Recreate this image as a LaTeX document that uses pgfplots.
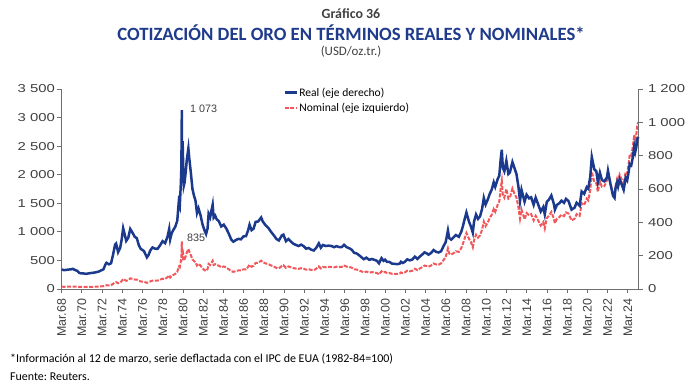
\documentclass[border=0pt]{standalone}
\usepackage{fontspec}
\setmainfont{Carlito}
\newfontfamily\ticky[FakeStretch=1.3]{Liberation Sans}
\newfontfamily\tickx{Liberation Sans}
\newfontfamily\annot{Liberation Sans}
\usepackage{pgfplots}
\usepackage{pgfplotstable}
\pgfplotsset{compat=1.18}
\frenchspacing
\definecolor{realblue}{RGB}{27,58,142}
\definecolor{nomred}{RGB}{240,88,92}
\definecolor{titleblue}{RGB}{31,59,140}
\definecolor{axgray}{RGB}{110,110,110}
\definecolor{txtgray}{RGB}{64,64,64}

\pgfplotstableread{
x nom real
1968.17 40 117
1968.4 39 113
1968.65 40 115
1968.9 41 117
1969.1 42 118
1969.25 43.5 121
1969.45 42 115
1969.7 40.5 109
1969.9 36 97
1970.1 35 93
1970.35 35.5 93
1970.6 35.3 91
1970.85 37 94
1971.1 38 96
1971.35 39.5 98
1971.6 41 101
1971.85 43 105
1972.05 46 111
1972.3 49 118
1972.5 62 148
1972.6 66 157
1972.85 63 148
1973.05 66 154
1973.25 90 206
1973.45 118 267
1973.55 122 273
1973.75 100 221
1973.95 112 246
1974.1 140 296
1974.25 175 365
1974.4 160 329
1974.55 143 289
1974.75 155 307
1974.95 186 360
1975.15 178 340
1975.4 166 313
1975.6 164 305
1975.8 143 262
1976.0 132 240
1976.3 127 228
1976.6 108 190
1976.75 116 203
1976.95 135 233
1977.15 146 249
1977.4 145 242
1977.65 147 241
1977.9 162 262
1978.15 180 287
1978.4 176 275
1978.65 208 317
1978.8 240 360
1978.9 200 298
1979.05 230 335
1979.2 245 353
1979.4 265 373
1979.6 300 410
1979.75 390 523
1979.85 380 500
1979.95 480 626
1980.0 560 720
1980.03 700 899
1980.05 835 1073
1980.07 680 871
1980.1 640 815
1980.13 700 887
1980.2 560 703
1980.25 500 621
1980.33 520 642
1980.45 580 711
1980.55 640 779
1980.7 700 844
1980.78 660 790
1980.85 630 750
1980.95 590 694
1981.1 520 601
1981.25 490 561
1981.4 470 531
1981.55 410 456
1981.7 440 484
1981.9 410 443
1982.1 360 387
1982.3 330 351
1982.45 315 330
1982.6 350 364
1982.7 440 451
1982.85 420 430
1982.95 450 461
1983.1 495 506
1983.2 420 428
1983.35 435 440
1983.5 415 418
1983.7 410 408
1983.95 380 375
1984.2 395 386
1984.45 375 363
1984.7 345 331
1984.95 310 295
1985.15 300 284
1985.4 315 294
1985.65 325 301
1985.9 325 298
1986.15 345 316
1986.4 345 317
1986.6 385 351
1986.75 425 386
1986.95 390 353
1987.15 405 362
1987.35 455 403
1987.6 460 405
1987.9 495 429
1988.05 470 406
1988.3 450 385
1988.6 435 367
1988.85 415 345
1989.1 395 326
1989.4 370 301
1989.65 360 291
1989.95 405 322
1990.1 415 326
1990.35 370 287
1990.6 395 300
1990.85 380 284
1991.1 365 271
1991.35 358 264
1991.6 352 258
1991.85 365 266
1992.1 355 257
1992.35 338 242
1992.6 345 246
1992.85 335 236
1993.1 330 231
1993.35 355 247
1993.6 395 274
1993.8 360 248
1994.0 385 264
1994.3 380 258
1994.55 385 260
1994.85 385 258
1995.1 378 251
1995.35 390 257
1995.6 385 252
1995.85 385 251
1996.1 410 265
1996.35 392 251
1996.6 385 245
1996.85 375 236
1997.1 345 217
1997.35 340 213
1997.6 325 202
1997.85 305 189
1998.05 290 179
1998.3 305 188
1998.6 285 175
1998.85 295 180
1999.1 287 175
1999.35 280 169
1999.55 256 154
1999.8 310 185
2000.0 285 169
2000.15 300 176
2000.35 278 162
2000.6 280 162
2000.85 265 152
2001.1 265 151
2001.35 265 149
2001.6 270 152
2001.72 290 163
2001.9 277 156
2002.1 290 163
2002.35 320 178
2002.6 310 172
2002.85 320 177
2003.1 355 194
2003.35 330 180
2003.6 360 195
2003.85 385 208
2004.05 410 220
2004.3 400 213
2004.45 390 206
2004.7 410 216
2004.95 445 234
2005.2 430 223
2005.45 425 219
2005.7 450 227
2005.95 510 259
2006.15 560 281
2006.37 710 351
2006.5 620 305
2006.7 600 296
2006.95 630 312
2007.15 660 324
2007.45 650 313
2007.7 720 345
2007.87 800 381
2008.05 900 425
2008.2 980 459
2008.45 880 405
2008.65 820 374
2008.83 730 338
2008.95 850 403
2009.15 950 447
2009.35 900 421
2009.55 940 436
2009.75 1040 481
2009.92 1180 546
2010.1 1100 507
2010.35 1180 543
2010.5 1240 570
2010.7 1300 596
2010.9 1400 640
2011.05 1350 613
2011.3 1480 661
2011.45 1530 680
2011.6 1780 786
2011.7 1895 836
2011.8 1650 727
2011.95 1600 706
2012.15 1750 769
2012.35 1580 690
2012.5 1600 699
2012.75 1760 762
2012.95 1670 726
2013.15 1600 690
2013.35 1420 611
2013.5 1230 528
2013.65 1390 595
2013.95 1220 524
2014.15 1330 566
2014.4 1290 544
2014.6 1310 550
2014.85 1200 505
2015.05 1280 548
2015.3 1200 507
2015.55 1110 465
2015.8 1170 492
2015.95 1060 448
2016.15 1240 523
2016.35 1280 535
2016.6 1350 561
2016.85 1230 510
2016.95 1150 476
2017.15 1230 505
2017.4 1260 515
2017.6 1300 530
2017.85 1275 517
2018.05 1340 541
2018.3 1320 527
2018.6 1200 476
2018.9 1230 488
2019.1 1310 518
2019.4 1280 500
2019.6 1500 585
2019.85 1470 571
2020.1 1580 611
2020.25 1550 602
2020.45 1730 675
2020.6 2050 792
2020.85 1870 718
2021.05 1850 706
2021.2 1700 642
2021.4 1880 698
2021.6 1790 654
2021.85 1800 646
2022.1 1900 670
2022.2 2040 710
2022.45 1840 629
2022.7 1660 559
2022.85 1630 547
2022.95 1800 606
2023.1 1920 639
2023.2 1850 615
2023.35 2000 659
2023.55 1920 628
2023.75 1830 595
2023.95 2050 668
2024.1 2020 652
2024.25 2200 704
2024.35 2350 750
2024.5 2330 742
2024.65 2480 788
2024.8 2700 855
2024.9 2600 823
2025.0 2700 850
2025.1 2870 899
2025.19 2920 913
}\gold

\pgfplotsset{
  common/.style={
    at={(61.7bp,99bp)}, anchor=south west, scale only axis,
    width=576.6bp, height=200bp,
    xmin=1968.17, xmax=2025.2, ymin=0,
    axis line style={axgray, line width=0.9bp},
    tick style={axgray, line width=0.9bp},
    tick align=outside, major tick length=4.5bp,
    /pgf/number format/1000 sep={\ },
    /pgf/number format/assume math mode=true,
    y tick label style={font=\ticky\fontsize{11.5}{13}\selectfont, text=txtgray, inner sep=0pt},
    clip=false,
  }
}

\begin{document}
\begin{tikzpicture}
\path[use as bounding box] (0,0) rectangle (700bp,388bp);
\node[font=\fontsize{14}{16}\selectfont\bfseries, text=txtgray] at (351bp,374bp) {Gráfico 36};
\node[font=\fontsize{18.8}{20}\selectfont\bfseries, text=titleblue] at (351bp,355bp) {COTIZACIÓN DEL ORO EN TÉRMINOS REALES Y NOMINALES*};
\node[font=\fontsize{13}{15}\selectfont, text=txtgray] at (351bp,336bp) {(USD/oz.tr.)};
\node[anchor=base west, inner sep=0pt, font=\fontsize{12}{14}\selectfont] at (10bp,26bp) {*Información al 12 de marzo, serie deflactada con el IPC de EUA (1982-84=100)};
\node[anchor=base west, inner sep=0pt, font=\fontsize{12}{14}\selectfont] at (10bp,8bp) {Fuente: Reuters.};

\begin{axis}[common, ymax=3500,
  axis x line*=bottom, axis y line*=left,
  xtick={1968.17,1970.17,1972.17,1974.17,1976.17,1978.17,1980.17,1982.17,1984.17,1986.17,1988.17,1990.17,1992.17,1994.17,1996.17,1998.17,2000.17,2002.17,2004.17,2006.17,2008.17,2010.17,2012.17,2014.17,2016.17,2018.17,2020.17,2022.17,2024.17},
  xticklabels={Mar.68,Mar.70,Mar.72,Mar.74,Mar.76,Mar.78,Mar.80,Mar.82,Mar.84,Mar.86,Mar.88,Mar.90,Mar.92,Mar.94,Mar.96,Mar.98,Mar.00,Mar.02,Mar.04,Mar.06,Mar.08,Mar.10,Mar.12,Mar.14,Mar.16,Mar.18,Mar.20,Mar.22,Mar.24},
  x tick label style={rotate=90, anchor=east, font=\tickx\fontsize{12.5}{14}\selectfont, text=txtgray, inner sep=0pt},
  xticklabel shift=5bp,
  yticklabel shift=2bp,
  ytick={0,500,...,3500},
]
\addplot[nomred, line width=2bp, dash pattern=on 4bp off 1.5bp] table[x=x,y=nom] {\gold};
\node[anchor=west, inner sep=0pt, font=\annot\fontsize{10.8}{12}\selectfont, text=txtgray] at (axis cs:1980.55,892) {835};
\end{axis}

\begin{axis}[common, ymax=1200,
  axis x line=none, axis y line*=right,
  ytick={0,200,...,1200},
  yticklabel shift=5bp,
  legend style={at={(0.384,1.015)}, anchor=north west, draw=none, fill=none,
    font=\fontsize{11.6}{13}\selectfont, row sep=2bp, inner sep=0pt,
    nodes={inner sep=1.5bp}},
  legend cell align=left,
  legend image code/.code={\draw[#1] (0bp,0bp) -- (12bp,0bp);},
]
\addplot[realblue, line width=2.5bp] table[x=x,y=real] {\gold};
\addlegendentry{Real (eje derecho)}
\addlegendimage{nomred, line width=2bp, dash pattern=on 4bp off 1.5bp}
\addlegendentry{Nominal (eje izquierdo)}
\node[anchor=west, inner sep=0pt, font=\annot\fontsize{10.8}{12}\selectfont, text=txtgray] at (axis cs:1980.86,1080) {1 073};
\end{axis}
\end{tikzpicture}
\end{document}
